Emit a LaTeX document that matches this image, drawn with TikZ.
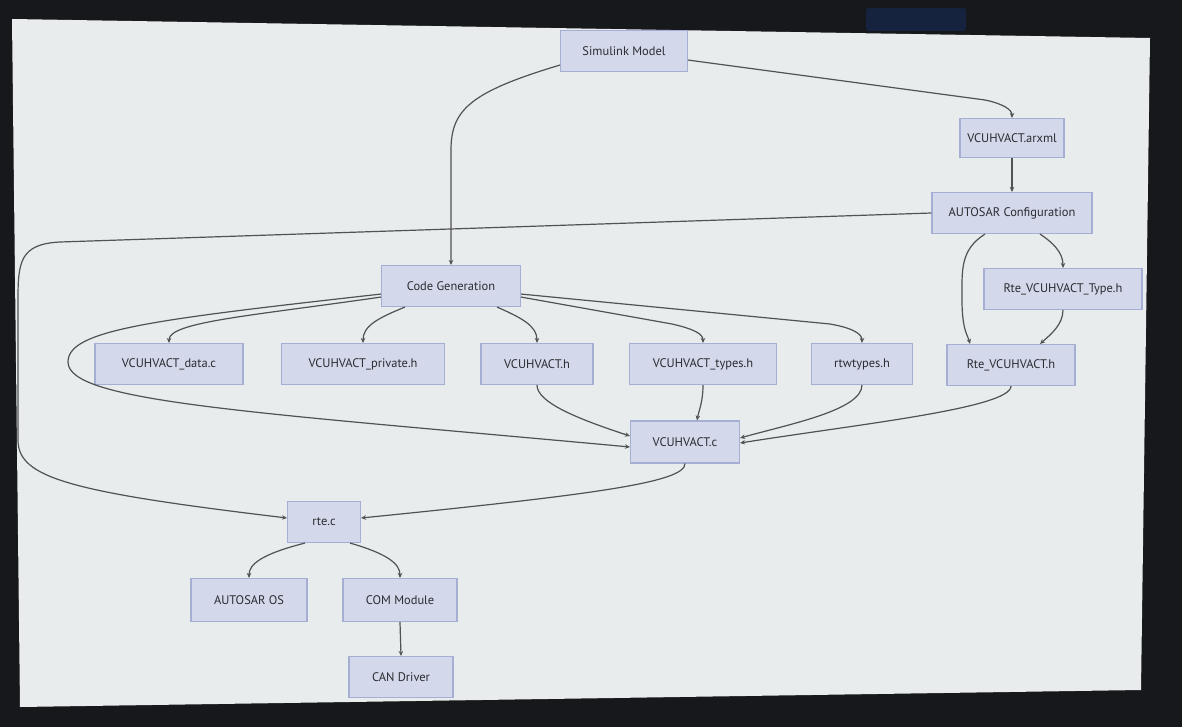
\documentclass[tikz,border=0pt]{standalone}
\usepackage{fontspec}
\setmainfont{PT Sans}
\usetikzlibrary{arrows.meta}
\definecolor{bezel}{HTML}{17181B}
\definecolor{screen}{HTML}{E8ECEC}
\definecolor{nodefill}{HTML}{D3D9EB}
\definecolor{nodeline}{HTML}{A5AED3}
\definecolor{edgecol}{HTML}{505256}
\definecolor{txt}{HTML}{2A2C31}
\definecolor{btn}{HTML}{15233F}
\tikzset{
  box/.style={draw=nodeline, fill=nodefill, line width=1.1bp, inner sep=0pt,
    minimum height=41bp, text=txt, font=\fontsize{12.5}{14}\selectfont},
  arr/.style={draw=edgecol, line width=1.2bp, -{Stealth[length=5bp,width=4.5bp]}},
}
\begin{document}
\begin{tikzpicture}[x=1bp,y=-1bp]
\useasboundingbox (0,0) rectangle (1182,727);
\fill[bezel] (0,0) rectangle (1182,727);
\fill[screen] (12,19) -- (1150,38) -- (1141,690) -- (20,707) -- cycle;
\fill[btn, rounded corners=3bp] (866,8) rectangle (966,31);

\node[box, minimum width=127bp] (sim) at (624,51) {Simulink Model};
\node[box, minimum width=104bp, minimum height=39bp] (arx) at (1012,138) {VCUHVACT.arxml};
\node[box, minimum width=160bp] (cfg) at (1012,213) {AUTOSAR Configuration};
\node[box, minimum width=139bp] (cg) at (451,286) {Code Generation};
\node[box, minimum width=158bp] (rtyp) at (1063,289) {Rte\_VCUHVACT\_Type.h};
\node[box, minimum width=148bp] (data) at (169,364) {VCUHVACT\_data.c};
\node[box, minimum width=163bp] (priv) at (363,364) {VCUHVACT\_private.h};
\node[box, minimum width=112bp] (vh) at (537,364) {VCUHVACT.h};
\node[box, minimum width=147bp] (types) at (703,364) {VCUHVACT\_types.h};
\node[box, minimum width=101bp] (rtw) at (862,364) {rtwtypes.h};
\node[box, minimum width=128bp] (rteh) at (1011,365) {Rte\_VCUHVACT.h};
\node[box, minimum width=109bp, minimum height=42bp] (vc) at (685,442) {VCUHVACT.c};
\node[box, minimum width=73bp] (rte) at (324,522) {rte.c};
\node[box, minimum width=116bp, minimum height=43bp] (os) at (249,600) {AUTOSAR OS};
\node[box, minimum width=114bp, minimum height=43bp] (com) at (400,600) {COM Module};
\node[box, minimum width=104bp] (can) at (401,677) {CAN Driver};

% Simulink edges
\draw[arr] ([yshift=7bp]sim.south west) .. controls (470,92) and (451,110) .. (451,150) -- (cg.north);
\draw[arr] ([yshift=12bp]sim.south east) -- (985,100) .. controls (1004,104) and (1012,110) .. (arx.north);
\draw[arr] (arx.south) -- (cfg.north);

% AUTOSAR configuration
\draw[arr] (cfg.west) -- (60,242) .. controls (20,244) and (18,262) .. (18,300) -- (18,440)
   .. controls (18,478) and (70,492) .. ([yshift=4bp]rte.west);
\draw[arr] ([xshift=28bp]cfg.south) .. controls (1052,242) and (1063,252) .. (rtyp.north);
\draw[arr] ([xshift=-27bp]cfg.south) .. controls (960,250) and (962,270) .. (962,300)
   .. controls (962,330) and (968,336) .. ([xshift=-41bp]rteh.north);
\draw[arr] (rtyp.south) .. controls (1063,325) and (1050,335) .. ([xshift=29bp]rteh.north);

% Code generation fan-out
\draw[arr] ([yshift=10bp]cg.south west) .. controls (250,316) and (169,322) .. (data.north);
\draw[arr] ([xshift=-46bp]cg.south) .. controls (378,318) and (363,326) .. (priv.north);
\draw[arr] ([xshift=46bp]cg.south) .. controls (522,318) and (537,326) .. (vh.north);
\draw[arr] ([yshift=10bp]cg.south east) -- (672,324) .. controls (694,329) and (703,334) .. (types.north);
\draw[arr] ([yshift=13bp]cg.south east) -- (830,324) .. controls (853,328) and (862,334) .. (rtw.north);
\draw[arr] ([yshift=13bp]cg.south west) .. controls (150,320) and (68,330) .. (68,362)
   .. controls (68,402) and (250,412) .. ([yshift=-5bp]vc.west);

% into VCUHVACT.c
\draw[arr] (vh.south) .. controls (537,402) and (575,418) .. ([yshift=6bp]vc.west);
\draw[arr] (types.south) .. controls (703,402) and (699,410) .. ([xshift=12bp]vc.north);
\draw[arr] (rtw.south) .. controls (862,410) and (790,424) .. ([yshift=4bp]vc.east);
\draw[arr] (rteh.south) .. controls (1011,408) and (860,424) .. ([yshift=-1bp]vc.east);

% VCUHVACT.c to rte.c
\draw[arr] (vc.south) .. controls (685,482) and (600,494) .. ([yshift=4bp]rte.east);

% rte.c outputs
\draw[arr] ([xshift=-19bp]rte.south) .. controls (262,554) and (249,564) .. (os.north);
\draw[arr] ([xshift=26bp]rte.south) .. controls (388,554) and (400,564) .. (com.north);
\draw[arr] (com.south) -- (can.north);
\end{tikzpicture}
\end{document}
